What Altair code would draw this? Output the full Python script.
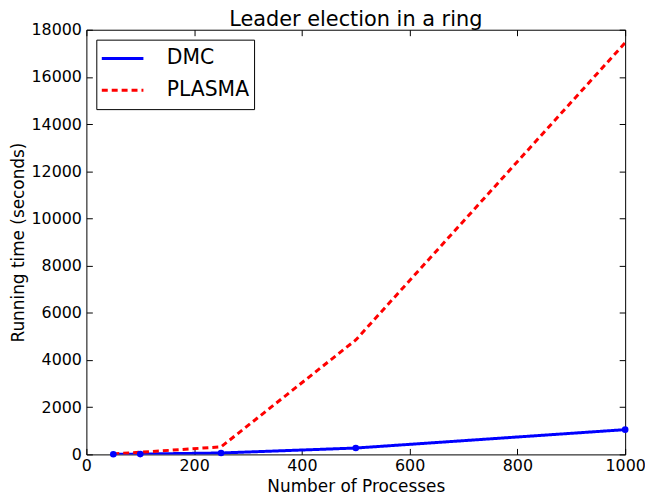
import altair as alt
import pandas as pd

processes = [50, 100, 250, 500, 1000]
dmc_time = [5, 15, 60, 270, 1050]
plasma_time = [20, 90, 320, 4850, 17450]
x_ticks = [0, 200, 400, 600, 800, 1000]
y_ticks = list(range(0, 18001, 2000))

rows = []
for p, v in zip(processes, dmc_time):
    rows.append({"n": p, "t": v, "series": "DMC"})
for p, v in zip(processes, plasma_time):
    rows.append({"n": p, "t": v, "series": "PLASMA"})
df = pd.DataFrame(rows)

FONT = "DejaVu Sans"
W, H = 543, 428

xs = alt.Scale(domain=[0, 1000], nice=False)
ys = alt.Scale(domain=[0, 18000], nice=False)

color = alt.Color(
    "series:N",
    scale=alt.Scale(domain=["DMC", "PLASMA"], range=["#0000ff", "#ff0000"]),
    legend=alt.Legend(
        title=None,
        orient="none",
        legendX=10,
        legendY=10,
        fillColor="white",
        strokeColor="black",
        padding=4,
        symbolType="stroke",
        symbolSize=1760,
        clipHeight=30,
        symbolStrokeWidth=3,
        labelFont=FONT,
        labelFontSize=20.5,
        labelColor="black",
        rowPadding=2,
        labelOffset=22,
    ),
)
dash = alt.StrokeDash(
    "series:N",
    scale=alt.Scale(domain=["DMC", "PLASMA"], range=[[1, 0], [6, 4]]),
    legend=alt.Legend(title=None),
)

bottom_axis = alt.Axis(
    values=x_ticks, orient="bottom", offset=-6, tickSize=6, domain=False,
    grid=False, labelPadding=3, labelFont=FONT, labelFontSize=16,
    labelColor="black", tickColor="black", title="Number of Processes",
    titleFont=FONT, titleFontSize=17, titleFontWeight="normal",
    titleColor="black", titlePadding=5, labelFlush=False, format="d",
)
left_axis = alt.Axis(
    values=y_ticks, orient="left", offset=-6, tickSize=6, domain=False,
    grid=False, labelPadding=5, labelFont=FONT, labelFontSize=16,
    labelColor="black", tickColor="black", title="Running time (seconds)",
    titleFont=FONT, titleFontSize=17, titleFontWeight="normal",
    titleColor="black", titlePadding=3, labelFlush=False, format="d",
)
top_axis = alt.Axis(
    values=x_ticks, orient="top", offset=-6, tickSize=6, domain=False,
    grid=False, labels=False, tickColor="black", title=None,
)
right_axis = alt.Axis(
    values=y_ticks, orient="right", offset=-6, tickSize=6, domain=False,
    grid=False, labels=False, tickColor="black", title=None,
)

lines = alt.Chart(df).mark_line(strokeWidth=3, clip=True).encode(
    x=alt.X("n:Q", scale=xs, axis=bottom_axis),
    y=alt.Y("t:Q", scale=ys, axis=left_axis),
    color=color,
    strokeDash=dash,
)

points = alt.Chart(df[df.series == "DMC"]).mark_point(
    filled=True, size=45, shape="circle", opacity=1, color="#0000ff"
).encode(
    x=alt.X("n:Q", scale=xs, axis=top_axis),
    y=alt.Y("t:Q", scale=ys, axis=right_axis),
)

chart = alt.layer(lines, points).resolve_axis(
    x="independent", y="independent"
).properties(
    width=W,
    height=H,
    title=alt.TitleParams(
        "Leader election in a ring", font=FONT, fontSize=21,
        fontWeight="normal", color="black", offset=4, dy=12,
    ),
    autosize=alt.AutoSizeParams(type="none"),
    padding={"left": 79, "top": 20, "right": 20, "bottom": 38},
).configure_view(stroke="black", strokeWidth=1)

chart.save("out.html", embed_options={"renderer": "svg", "actions": False})
